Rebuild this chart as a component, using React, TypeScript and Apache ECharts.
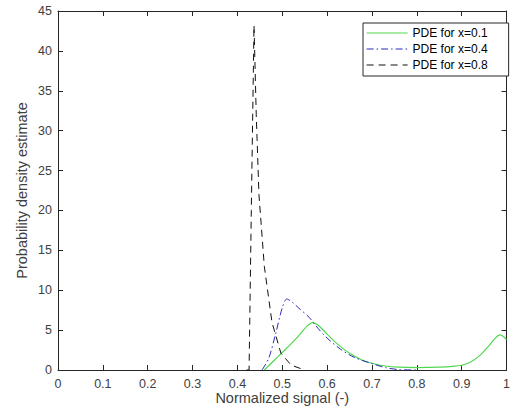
import React, { useEffect, useRef } from "react";
import * as echarts from "echarts";

const seriesNames = ["PDE for x=0.1", "PDE for x=0.4", "PDE for x=0.8"];

const pde01: [number, number][] = [
  [0.46, 0], [0.48, 1.1], [0.5, 2.2], [0.52, 3.3], [0.54, 4.5], [0.555, 5.5],
  [0.568, 5.95], [0.58, 5.6], [0.6, 4.5], [0.62, 3.4], [0.65, 2.1], [0.68, 1.2],
  [0.7, 0.85], [0.73, 0.5], [0.76, 0.35], [0.8, 0.3], [0.85, 0.35], [0.88, 0.45],
  [0.9, 0.6], [0.92, 1.0], [0.94, 1.8], [0.96, 3.0], [0.975, 4.0], [0.985, 4.4],
  [0.993, 4.2], [1.0, 3.8],
];

const pde04: [number, number][] = [
  [0.455, 0], [0.47, 1.5], [0.485, 4.5], [0.5, 7.8], [0.51, 8.9], [0.52, 8.6],
  [0.54, 7.6], [0.56, 6.6], [0.58, 5.2], [0.6, 4.0], [0.63, 2.6], [0.66, 1.6],
  [0.7, 0.8], [0.73, 0.3], [0.76, 0.05], [0.8, 0],
];

const pde08: [number, number][] = [
  [0.42, 0], [0.426, 0], [0.431, 20], [0.437, 43.2], [0.442, 32], [0.448, 22],
  [0.46, 13], [0.477, 6], [0.497, 2.1], [0.52, 0.6], [0.55, 0],
];

const xTicks = { min: 0, max: 1, interval: 0.1 };
const yTicks = { min: 0, max: 45, interval: 5 };

const FONT = "'Liberation Sans', Arial, Helvetica, sans-serif";
const AXIS_COLOR = "#262626";
const LABEL_COLOR = "#404040";

export default function App() {
  const ref = useRef<HTMLDivElement>(null);
  useEffect(() => {
    if (!ref.current) return;
    const chart = echarts.init(ref.current, null, { renderer: "svg" });
    const axisLine = { show: true, onZero: false, lineStyle: { color: AXIS_COLOR, width: 1 } };
    const axisTick = { show: true, inside: true, length: 5, lineStyle: { color: AXIS_COLOR } };
    chart.setOption({
      animation: false,
      backgroundColor: "#fff",
      textStyle: { fontFamily: FONT },
      grid: { left: 58, right: 4, top: 11, bottom: 46, containLabel: false },
      legend: {
        data: seriesNames,
        orient: "vertical",
        left: 363,
        top: 23,
        itemWidth: 41,
        itemHeight: 14,
        itemGap: 4,
        padding: [4, 21, 5, 3],
        backgroundColor: "#fff",
        borderColor: AXIS_COLOR,
        borderWidth: 1,
        borderRadius: 0,
        itemStyle: { color: "transparent", borderColor: "transparent", borderWidth: 0, opacity: 0 },
        lineStyle: { width: 1.2 },
        textStyle: { fontSize: 12, color: "#000", fontFamily: FONT },
      },
      xAxis: [
        {
          type: "value",
          ...xTicks,
          name: "Normalized signal (-)",
          nameLocation: "middle",
          nameGap: 20,
          nameMoveOverlap: false,
          nameTextStyle: { fontSize: 14.5, color: LABEL_COLOR, fontFamily: FONT },
          axisLine,
          axisTick,
          splitLine: { show: false },
          axisLabel: {
            fontSize: 12.5,
            color: LABEL_COLOR,
            margin: 7,
            fontFamily: FONT,
            formatter: (v: number) => String(Math.round(v * 10) / 10),
          },
        },
        {
          type: "value",
          position: "top",
          ...xTicks,
          axisLine,
          axisTick,
          splitLine: { show: false },
          axisLabel: { show: false },
        },
      ],
      yAxis: [
        {
          type: "value",
          ...yTicks,
          name: "Probability density estimate",
          nameLocation: "middle",
          nameGap: 29,
          nameMoveOverlap: false,
          nameTextStyle: { fontSize: 14.5, color: LABEL_COLOR, fontFamily: FONT },
          axisLine,
          axisTick,
          splitLine: { show: false },
          axisLabel: { fontSize: 12.5, color: LABEL_COLOR, margin: 6, fontFamily: FONT },
        },
        {
          type: "value",
          position: "right",
          ...yTicks,
          axisLine,
          axisTick,
          splitLine: { show: false },
          axisLabel: { show: false },
        },
      ],
      series: [
        {
          name: seriesNames[0],
          type: "line",
          data: pde01,
          smooth: 0.3,
          symbol: "none",
          lineStyle: { color: "#4fd84f", width: 1.2, type: "solid" },
          itemStyle: { color: "#4fd84f" },
          z: 3,
        },
        {
          name: seriesNames[1],
          type: "line",
          data: pde04,
          smooth: 0.3,
          symbol: "none",
          lineStyle: { color: "#2b2bb8", width: 1, type: [7, 3, 1.5, 3] },
          itemStyle: { color: "#2b2bb8" },
          z: 4,
        },
        {
          name: seriesNames[2],
          type: "line",
          data: pde08,
          smooth: false,
          symbol: "none",
          lineStyle: { color: "#111", width: 1, type: [7, 5] },
          itemStyle: { color: "#111" },
          z: 5,
        },
      ],
    });
    return () => chart.dispose();
  }, []);
  return (
    <div
      ref={ref}
      style={{ position: "fixed", left: 0, top: 0, width: 513, height: 416 }}
    />
  );
}
